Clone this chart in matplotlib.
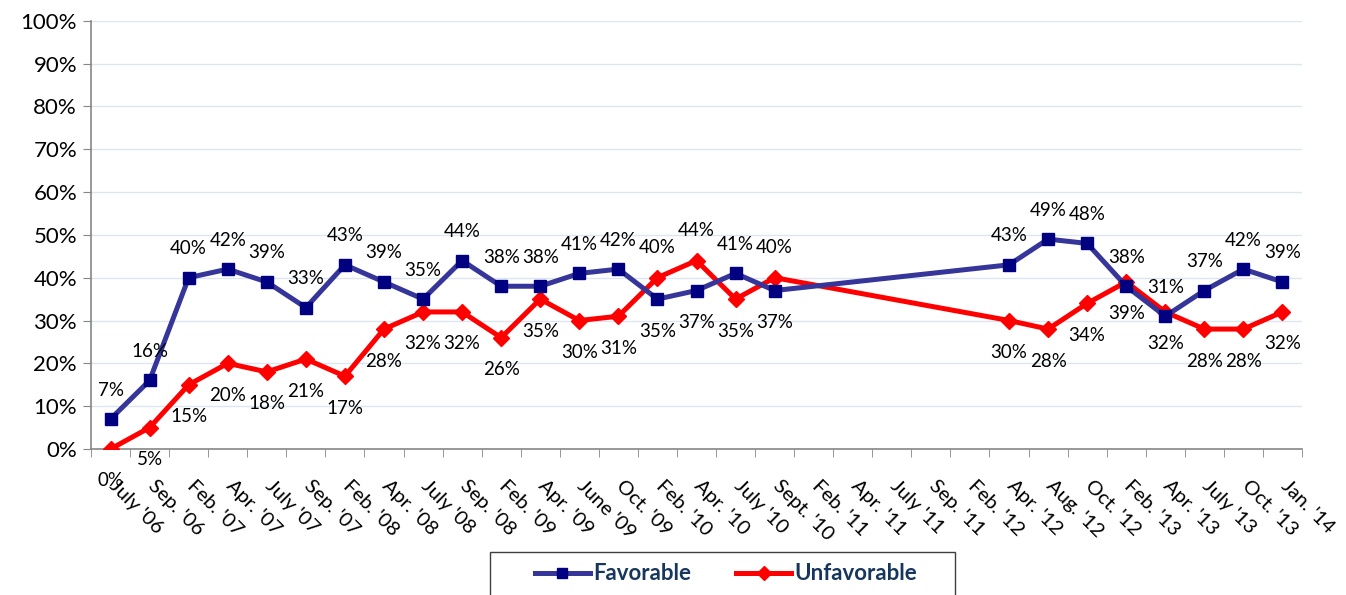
import numpy as np
import matplotlib
matplotlib.use("Agg")
import matplotlib.pyplot as plt
import matplotlib.transforms as mtransforms
from matplotlib.patches import Rectangle
from matplotlib.ticker import FuncFormatter

plt.rcParams['font.family'] = ['Lato', 'DejaVu Sans']

labels = ["July '06", "Sep. '06", "Feb. '07", "Apr. '07", "July '07", "Sep. '07",
          "Feb. '08", "Apr. '08", "July '08", "Sep. '08", "Feb. '09", "Apr. '09",
          "June '09", "Oct. '09", "Feb. '10", "Apr. '10", "July '10", "Sept. '10",
          "Feb. '11", "Apr. '11", "July '11", "Sep. '11", "Feb. '12", "Apr. '12",
          "Aug. '12", "Oct. '12", "Feb. '13", "Apr. '13", "July '13", "Oct. '13",
          "Jan. '14"]

nan = np.nan
favorable = [7, 16, 40, 42, 39, 33, 43, 39, 35, 44, 38, 38, 41, 42, 35, 37, 41, 37,
             nan, nan, nan, nan, nan, 43, 49, 48, 38, 31, 37, 42, 39]
unfavorable = [0, 5, 15, 20, 18, 21, 17, 28, 32, 32, 26, 35, 30, 31, 40, 44, 35, 40,
               nan, nan, nan, nan, nan, 30, 28, 34, 39, 32, 28, 28, 32]

# points where the favorable label sits below and the unfavorable one above
flipped = {14, 15, 17}

fav = np.array(favorable, dtype=float)
unf = np.array(unfavorable, dtype=float)
x = np.arange(len(labels))

fig = plt.figure(figsize=(13.46, 5.95), dpi=100)
ax = fig.add_axes([91 / 1346, 1 - 449 / 595, (1302 - 91) / 1346, (449 - 20.7) / 595])

m = ~np.isnan(fav)
ax.plot(x[m], fav[m], color='#35359A', lw=3.6, marker='s', ms=8.6,
        mfc='#000080', mec='#000080', label='Favorable', zorder=4)
m = ~np.isnan(unf)
ax.plot(x[m], unf[m], color='#FF0000', lw=3.6, marker='D', ms=8,
        mfc='#FF0000', mec='#FF0000', label='Unfavorable', zorder=3)

for i in x:
    if not np.isnan(fav[i]):
        dy = -32 if i in flipped else 29
        ax.annotate(f"{fav[i]:.0f}%", (i, fav[i]), xytext=(0, dy), textcoords='offset pixels',
                    ha='center', va='center', fontsize=13.5, color='black', zorder=5)
    if not np.isnan(unf[i]):
        dy = 30 if i in flipped else -32
        ax.annotate(f"{unf[i]:.0f}%", (i, unf[i]), xytext=(0, dy), textcoords='offset pixels',
                    ha='center', va='center', fontsize=13.5, color='black', zorder=5,
                    annotation_clip=False)

ax.set_xlim(-0.5, len(labels) - 0.5)
ax.set_ylim(0, 100)
ax.set_yticks(range(0, 101, 10))
ax.yaxis.set_major_formatter(FuncFormatter(lambda v, p: f"{v:.0f}%"))
ax.tick_params(axis='y', labelsize=16, length=6, color='#868686', pad=4)

ax.set_xticks(x)
ax.set_xticklabels(labels, rotation=-45, ha='left', va='top', rotation_mode='anchor')
ax.tick_params(axis='x', which='major', length=0, labelsize=14.5, pad=20)
ax.set_xticks(np.arange(-0.5, len(labels), 1), minor=True)
ax.tick_params(axis='x', which='minor', length=6, color='#868686')
# nudge the slanted labels a little to the right of each category
shift = mtransforms.ScaledTranslation(7 / 100, 0, fig.dpi_scale_trans)
for lbl in ax.get_xticklabels():
    lbl.set_transform(lbl.get_transform() + shift)

ax.grid(axis='y', color='#DCE6F2', lw=1)
ax.set_axisbelow(True)
for s in ['top', 'right']:
    ax.spines[s].set_visible(False)
for s in ['left', 'bottom']:
    ax.spines[s].set_color('#868686')
    ax.spines[s].set_linewidth(1.2)

# legend box running off the bottom edge
fig.patches.append(Rectangle((490 / 1346, -0.02), (955 - 490) / 1346, 0.02 + 43 / 595,
                             transform=fig.transFigure, fill=False, ec='#404040', lw=1))
leg = fig.legend(loc='center', bbox_to_anchor=(726 / 1346, 1 - 574 / 595), ncol=2,
                 frameon=False, handlelength=2.5, handletextpad=0.15, columnspacing=2.0,
                 prop={'weight': 'bold', 'size': 16})
for t in leg.get_texts():
    t.set_color('#17365D')
for h in leg.legend_handles:
    h.set_markersize(7)

fig.savefig('out.png', dpi=100)
